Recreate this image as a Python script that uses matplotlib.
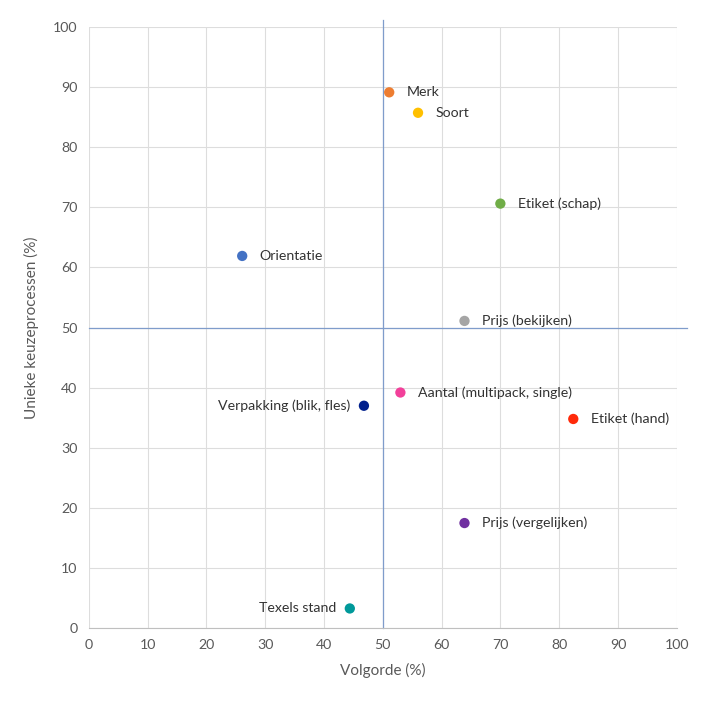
import matplotlib.pyplot as plt
from matplotlib.lines import Line2D

plt.rcParams['font.family'] = ['Lato', 'DejaVu Sans']

labels = ['Orientatie', 'Merk', 'Soort', 'Etiket (schap)', 'Prijs (bekijken)',
          'Aantal (multipack, single)', 'Verpakking (blik, fles)', 'Etiket (hand)',
          'Prijs (vergelijken)', 'Texels stand']
volgorde = [26.1, 51.1, 56.0, 70.0, 63.9, 53.0, 46.8, 82.4, 63.9, 44.4]
keuze = [61.9, 89.1, 85.7, 70.6, 51.1, 39.2, 37.0, 34.8, 17.5, 3.3]
colors = ['#4472C4', '#ED7D31', '#FFC000', '#70AD47', '#A5A5A5',
          '#F2409A', '#001F8C', '#FF2A0A', '#7030A0', '#00999A']
label_left = ['Verpakking (blik, fles)', 'Texels stand']

fig = plt.figure(figsize=(7.26, 7.04), dpi=100)
ax = fig.add_axes([0.1222, 0.1075, 0.81, 0.8545])

ax.scatter(volgorde, keuze, c=colors, s=55, zorder=3, linewidths=0)
for name, x, y in zip(labels, volgorde, keuze):
    if name in label_left:
        ax.annotate(name, (x, y), xytext=(-10, 0), textcoords='offset points',
                    ha='right', va='center', fontsize=10.2, color='#333333')
    else:
        ax.annotate(name, (x, y), xytext=(12.5, 0), textcoords='offset points',
                    ha='left', va='center', fontsize=10.2, color='#333333')

# quadrant lines
ax.add_line(Line2D([50, 50], [0, 101.2], color='#7F9CCB', lw=0.9, clip_on=False, zorder=2))
ax.add_line(Line2D([0, 101.7], [50, 50], color='#7F9CCB', lw=0.9, clip_on=False, zorder=2))

ax.set_xlim(0, 100)
ax.set_ylim(0, 100)
ax.set_xticks(range(0, 101, 10))
ax.set_yticks(range(0, 101, 10))
ax.grid(True, color='#DDDDDD', lw=0.8)
ax.set_axisbelow(True)
for side in ['top', 'right', 'left']:
    ax.spines[side].set_visible(False)
ax.spines['bottom'].set_color('#BFBFBF')
ax.tick_params(length=0, labelsize=10.2, labelcolor='#595959', pad=8)
ax.set_xlabel('Volgorde (%)', fontsize=11, color='#595959', labelpad=8)
ax.set_ylabel('Unieke keuzeprocessen (%)', fontsize=11, color='#595959', labelpad=10)

fig.savefig('out.png', dpi=100)
